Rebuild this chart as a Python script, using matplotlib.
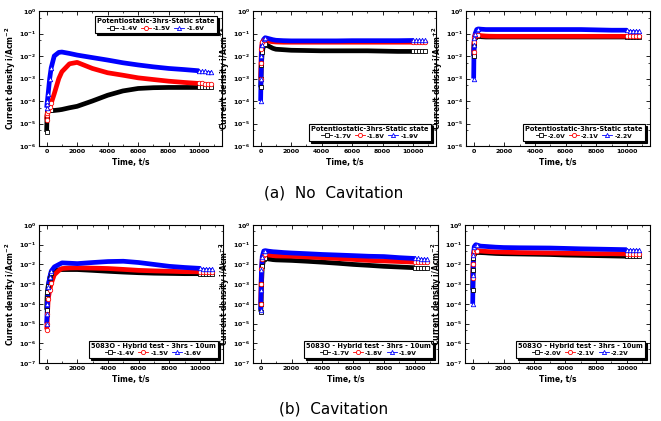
import numpy as np
import matplotlib
matplotlib.use("Agg")
import matplotlib.pyplot as plt
from matplotlib.lines import Line2D
from matplotlib.ticker import MultipleLocator, LogLocator

plt.rcParams["font.family"] = ["DejaVu Sans"]
plt.rcParams["font.weight"] = "bold"
plt.rcParams["mathtext.default"] = "bf"

# common sampling times (s) for the read-off points
t = [0, 25, 50, 100, 200, 300, 500, 800, 1000, 1500, 2000, 3000, 4000,
     5000, 6000, 7000, 8000, 9000, 10000, 10200, 10400, 10600, 10800]

# (a) no cavitation
a1_14 = [4.2e-6, 2e-5, 3e-5, 3.8e-5, 3.8e-5, 3.8e-5, 3.8e-5, 4e-5, 4.2e-5, 5e-5,
         5.8e-5, 1e-4, 1.8e-4, 2.8e-4, 3.6e-4, 3.9e-4, 4e-4, 4e-4, 4e-4,
         4e-4, 4e-4, 4e-4, 4e-4]
a1_15 = [1.5e-5, 2.3e-5, 2.8e-5, 3.5e-5, 5.4e-5, 8e-5, 2.1e-4, 1e-3, 2e-3, 4.5e-3,
         5.2e-3, 2.8e-3, 1.8e-3, 1.4e-3, 1.07e-3, 9e-4, 7.6e-4, 6.7e-4, 6e-4,
         6e-4, 5.9e-4, 5.8e-4, 5.8e-4]
a1_16 = [5e-5, 7e-5, 1e-4, 2.1e-4, 1e-3, 3e-3, 1e-2, 1.45e-2, 1.5e-2, 1.3e-2,
         1.1e-2, 8.5e-3, 6.6e-3, 5e-3, 4e-3, 3.3e-3, 2.8e-3, 2.5e-3, 2.2e-3,
         2.1e-3, 2.1e-3, 2e-3, 2e-3]

a2_17 = [4e-4, 1e-3, 4e-3, 1.5e-2, 3e-2, 3.5e-2, 2.8e-2, 2.2e-2, 2e-2, 1.9e-2,
         1.8e-2, 1.75e-2, 1.7e-2, 1.7e-2, 1.7e-2, 1.7e-2, 1.65e-2, 1.6e-2,
         1.6e-2, 1.6e-2, 1.6e-2, 1.6e-2, 1.6e-2]
a2_18 = [1e-3, 5e-3, 2e-2, 4e-2, 5e-2, 5.2e-2, 4.6e-2, 4.3e-2, 4.2e-2, 4.1e-2,
         4.1e-2, 4.1e-2, 4.1e-2, 4.1e-2, 4.1e-2, 4.1e-2, 4.1e-2, 4.1e-2,
         4.1e-2, 4.1e-2, 4.1e-2, 4.1e-2, 4.1e-2]
a2_19 = [1e-4, 1e-3, 1e-2, 3e-2, 5.5e-2, 6.5e-2, 6e-2, 5.3e-2, 5e-2, 4.8e-2,
         4.7e-2, 4.7e-2, 4.7e-2, 4.7e-2, 4.8e-2, 4.8e-2, 4.8e-2, 4.8e-2,
         4.9e-2, 5e-2, 5e-2, 5e-2, 4.9e-2]

a3_20 = [1e-2, 3e-2, 5e-2, 7e-2, 7.5e-2, 7.5e-2, 7.2e-2, 7e-2, 7e-2, 7e-2,
         7e-2, 7e-2, 7e-2, 7e-2, 7e-2, 7e-2, 7e-2, 7e-2, 7e-2, 7e-2, 7e-2,
         7e-2, 7e-2]
a3_21 = [1.5e-2, 4e-2, 7e-2, 8.5e-2, 9e-2, 8.5e-2, 8e-2, 7.7e-2, 7.6e-2, 7.5e-2,
         7.5e-2, 7.5e-2, 7.5e-2, 7.5e-2, 7.5e-2, 7.5e-2, 7.5e-2, 7.5e-2,
         7.5e-2, 7.4e-2, 7.4e-2, 7.4e-2, 7.4e-2]
a3_22 = [1e-3, 3e-2, 6e-2, 1e-1, 1.5e-1, 1.6e-1, 1.55e-1, 1.5e-1, 1.5e-1, 1.5e-1,
         1.5e-1, 1.5e-1, 1.5e-1, 1.5e-1, 1.5e-1, 1.5e-1, 1.45e-1, 1.4e-1,
         1.4e-1, 1.35e-1, 1.35e-1, 1.3e-1, 1.3e-1]

# (b) cavitation
b1_14 = [5e-5, 2e-4, 4e-4, 8e-4, 2e-3, 3.7e-3, 4.8e-3, 5.3e-3, 5.5e-3, 5.5e-3,
         5.5e-3, 5e-3, 4.5e-3, 4.1e-3, 3.8e-3, 3.6e-3, 3.5e-3, 3.4e-3,
         3.4e-3, 3.4e-3, 3.4e-3, 3.4e-3, 3.4e-3]
b1_15 = [5e-6, 1e-5, 3e-5, 1.8e-4, 5e-4, 1.1e-3, 3e-3, 5e-3, 6.2e-3, 6.6e-3,
         6.7e-3, 6.5e-3, 6.2e-3, 5.6e-3, 5e-3, 4.7e-3, 4.5e-3, 4.3e-3,
         4.2e-3, 4.2e-3, 4.2e-3, 4.2e-3, 4.2e-3]
b1_16 = [1e-5, 3e-5, 1e-4, 7e-4, 2.2e-3, 4.6e-3, 7.5e-3, 1e-2, 1.2e-2, 1.15e-2,
         1.1e-2, 1.25e-2, 1.4e-2, 1.45e-2, 1.25e-2, 1e-2, 8e-3, 7e-3, 6.3e-3,
         6.2e-3, 6e-3, 6e-3, 6e-3]

b2_17 = [4e-5, 1e-4, 1e-3, 8e-3, 1.8e-2, 2e-2, 1.9e-2, 1.75e-2, 1.7e-2, 1.65e-2,
         1.6e-2, 1.45e-2, 1.3e-2, 1.15e-2, 1e-2, 9e-3, 8e-3, 7.4e-3, 6.8e-3,
         6.8e-3, 6.7e-3, 6.7e-3, 6.7e-3]
b2_18 = [1e-4, 1e-3, 6e-3, 1.8e-2, 3e-2, 3.2e-2, 3e-2, 2.8e-2, 2.7e-2, 2.65e-2,
         2.6e-2, 2.4e-2, 2.2e-2, 2e-2, 1.8e-2, 1.6e-2, 1.5e-2, 1.4e-2, 1.3e-2,
         1.3e-2, 1.3e-2, 1.3e-2, 1.3e-2]
b2_19 = [5e-5, 5e-4, 5e-3, 2.5e-2, 4.8e-2, 5e-2, 4.7e-2, 4.4e-2, 4.3e-2, 4e-2,
         3.8e-2, 3.5e-2, 3.2e-2, 3e-2, 2.8e-2, 2.6e-2, 2.5e-2, 2.2e-2, 2e-2,
         2e-2, 1.9e-2, 1.9e-2, 1.9e-2]

b3_20 = [5e-4, 5e-3, 2e-2, 4e-2, 4.2e-2, 4.2e-2, 4e-2, 3.9e-2, 3.8e-2, 3.6e-2,
         3.5e-2, 3.4e-2, 3.3e-2, 3.2e-2, 3e-2, 2.9e-2, 2.8e-2, 2.7e-2, 2.6e-2,
         2.6e-2, 2.6e-2, 2.6e-2, 2.6e-2]
b3_21 = [2e-3, 1e-2, 3e-2, 5e-2, 5.2e-2, 5e-2, 4.8e-2, 4.6e-2, 4.5e-2, 4.3e-2,
         4.2e-2, 4e-2, 3.9e-2, 3.8e-2, 3.7e-2, 3.6e-2, 3.5e-2, 3.5e-2, 3.4e-2,
         3.4e-2, 3.4e-2, 3.4e-2, 3.4e-2]
b3_22 = [1e-4, 3e-3, 3e-2, 8e-2, 1e-1, 9.5e-2, 8.5e-2, 8.2e-2, 8e-2, 7.5e-2,
         7.2e-2, 7e-2, 6.9e-2, 6.8e-2, 6.5e-2, 6.2e-2, 6e-2, 5.8e-2, 5.6e-2,
         5.6e-2, 5.5e-2, 5.5e-2, 5.5e-2]

panels = [
    (a1_14, a1_15, a1_16, ["-1.4V", "-1.5V", "-1.6V"], "upper right"),
    (a2_17, a2_18, a2_19, ["-1.7V", "-1.8V", "-1.9V"], "lower right"),
    (a3_20, a3_21, a3_22, ["-2.0V", "-2.1V", "-2.2V"], "lower right"),
    (b1_14, b1_15, b1_16, ["-1.4V", "-1.5V", "-1.6V"], "lower right"),
    (b2_17, b2_18, b2_19, ["-1.7V", "-1.8V", "-1.9V"], "lower right"),
    (b3_20, b3_21, b3_22, ["-2.0V", "-2.1V", "-2.2V"], "lower right"),
]
titles = ["Potentiostatic-3hrs-Static state"] * 3 + ["5083O - Hybrid test - 3hrs - 10um"] * 3

colors = ["black", "red", "blue"]
markers = ["s", "o", "^"]

W, H = 661, 421
fig = plt.figure(figsize=(W / 100, H / 100), dpi=100)

# axes boxes in pixels: left, top, right, bottom
boxes = [(39, 11, 222, 146), (253, 11, 436, 146), (466, 11, 650, 146),
         (39, 225, 223, 363), (253, 225, 438, 363), (465, 225, 650, 363)]

tt = np.array(t)
edge_idx = [i for i, v in enumerate(t) if v <= 300 or v >= 10000]
body = tt <= 10000

for k, (box, (s1, s2, s3, labels, loc)) in enumerate(zip(boxes, panels)):
    l, tp, r, b = box
    ax = fig.add_axes([l / W, 1 - b / H, (r - l) / W, (b - tp) / H])
    handles = []
    for vals, c, m, lab in zip([s1, s2, s3], colors, markers, labels):
        v = np.array(vals)
        ax.plot(tt, v, color=c, lw=0.8, zorder=2)
        ax.plot(tt[body], v[body], color=c, lw=3.4, solid_capstyle="butt", zorder=2)
        ax.plot(tt[edge_idx], v[edge_idx], ls="none", marker=m, ms=3.2,
                mfc="white", mec=c, mew=0.6, zorder=3)
        handles.append(Line2D([], [], color=c, lw=0.6, marker=m, ms=3,
                              mfc="white", mec=c, mew=0.6, label=lab))
    ax.set_yscale("log")
    ax.set_ylim(1e-6 if k < 3 else 1e-7, 1)
    ax.set_xlim(-500, 11500)
    ax.xaxis.set_major_locator(MultipleLocator(2000))
    ax.xaxis.set_minor_locator(MultipleLocator(1000))
    ax.yaxis.set_major_locator(LogLocator(base=10, numticks=10))
    ax.yaxis.set_minor_locator(LogLocator(base=10, subs=[5], numticks=10))
    ax.yaxis.set_minor_formatter(plt.NullFormatter())
    ax.tick_params(which="both", direction="in", top=True, right=True, labelsize=4.5, pad=2)
    ax.tick_params(which="major", length=3, width=0.6)
    ax.tick_params(which="minor", length=1.5, width=0.5)
    for sp in ax.spines.values():
        sp.set_linewidth(0.8)
    ax.set_ylabel("Current density i/Acm$^{-2}$", fontsize=5.5, fontweight="bold", labelpad=1)
    ax.set_xlabel("Time, t/s", fontsize=5.5, fontweight="bold", labelpad=3)
    leg = ax.legend(handles=handles, title=titles[k], loc=loc, ncol=3,
                    fontsize=4.3, title_fontproperties={"size": 4.8, "weight": "bold"},
                    frameon=True, fancybox=False, edgecolor="black",
                    shadow={"color": "black", "alpha": 1, "ox": 1.5, "oy": -1.5},
                    handlelength=1.7, handletextpad=0.3, columnspacing=0.6,
                    borderpad=0.35, labelspacing=0.2, borderaxespad=0.9)
    leg.get_frame().set_linewidth(0.8)

fig.text(0.504, 0.542, "(a)  No  Cavitation", ha="center", va="center",
         fontsize=11, fontweight="normal")
fig.text(0.504, 0.028, "(b)  Cavitation", ha="center", va="center",
         fontsize=11, fontweight="normal")

fig.savefig("out.png", dpi=100)
